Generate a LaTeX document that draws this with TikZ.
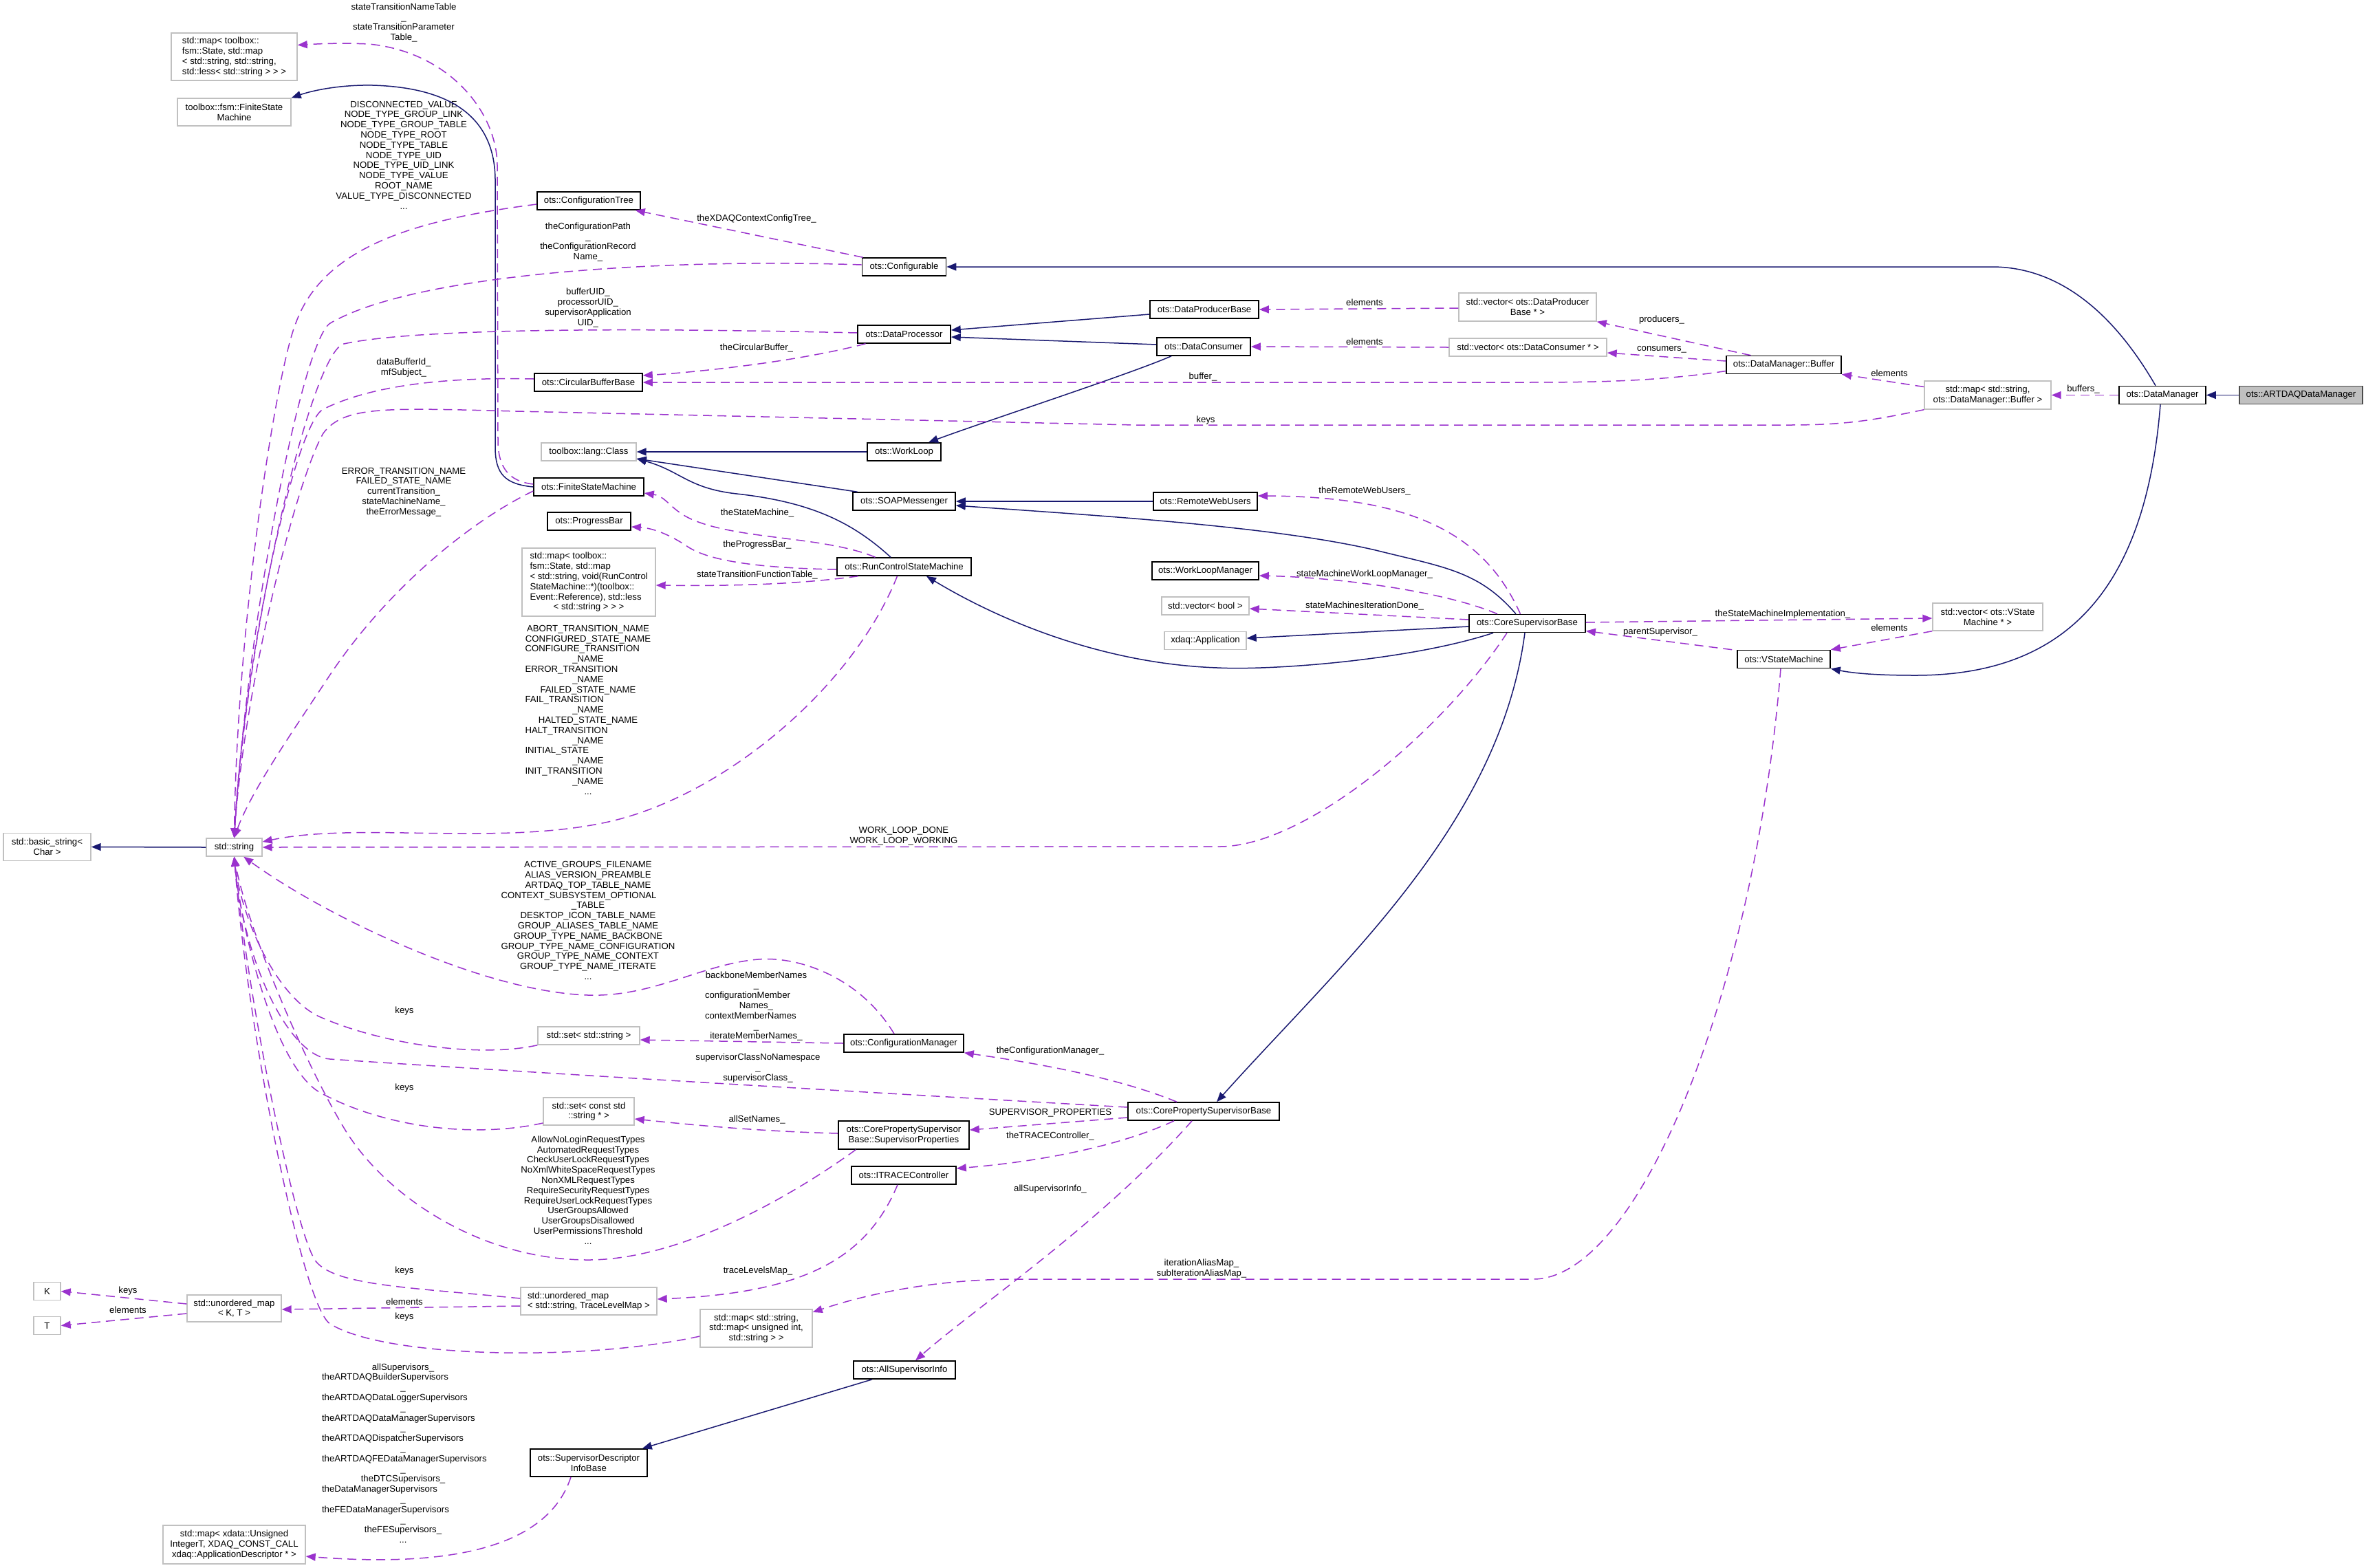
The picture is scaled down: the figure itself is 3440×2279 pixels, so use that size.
\PassOptionsToPackage{x11names, svgnames}{xcolor}
\documentclass[tikz,border=0pt]{standalone}
\usepackage{fontspec}
\setmainfont{Liberation Sans}
\usepackage{tikz}
\usetikzlibrary{arrows.meta}
\newcommand{\lpart}[2]{\makebox[#1][l]{#2}}

\begin{document}
\begin{tikzpicture}[x=1pt, y=-1pt, font=\fontsize{13.2}{14.8}\selectfont,
  cls/.style={draw=black, line width=1.6pt, fill=white, inner sep=0pt, align=center, minimum height=26pt},
  ext/.style={cls, draw=Silver, line width=1.4pt},
  lbl/.style={inner sep=0pt, align=center},
  uses/.style={DarkOrchid3, line width=1.5pt, dash pattern=on 13pt off 8pt, -{Triangle[length=14pt, width=11pt]}},
  isa/.style={MidnightBlue, line width=1.5pt, -{Triangle[length=14pt, width=11pt]}}]
  \useasboundingbox (0,0) rectangle (3440,2279);

  \node[ext, minimum width=183pt, minimum height=69pt, align=left] (mapSTN) at (340.5,82.5) {std::map< toolbox::\\fsm::State, std::map\\< std::string, std::string,\\ std::less< std::string > > >};
  \node[ext, minimum width=165pt, minimum height=40pt] (tbFSM) at (340.5,163) {toolbox::fsm::FiniteState\\Machine};
  \node[cls, minimum width=150pt] (cfgTree) at (856,292) {ots::ConfigurationTree};
  \node[cls, minimum width=122pt] (configurable) at (1314.5,388) {ots::Configurable};
  \node[cls, minimum width=135pt] (dataProc) at (1314.5,486) {ots::DataProcessor};
  \node[cls, minimum width=157pt] (circBuf) at (855.5,556) {ots::CircularBufferBase};
  \node[cls, minimum width=158pt] (prodBase) at (1751,450) {ots::DataProducerBase};
  \node[cls, minimum width=136pt] (consumer) at (1750,504) {ots::DataConsumer};
  \node[ext, minimum width=200pt, minimum height=41pt] (vecProd) at (2221,446.5) {std::vector< ots::DataProducer\\Base * >};
  \node[ext, minimum width=229pt] (vecCons) at (2221.5,505) {std::vector< ots::DataConsumer * >};
  \node[cls, minimum width=167pt] (dmBuffer) at (2593.5,530.5) {ots::DataManager::Buffer};
  \node[ext, minimum width=184pt, minimum height=41pt] (mapBuf) at (2890,574.5) {std::map< std::string,\\ots::DataManager::Buffer >};
  \node[cls, minimum width=126pt] (dataMgr) at (3144,574.5) {ots::DataManager};
  \node[cls, minimum width=179pt, fill=Silver, draw=black!70] (artdaq) at (3345.5,574.5) {ots::ARTDAQDataManager};
  \node[ext, minimum width=127pt, minimum height=40pt] (basicStr) at (68.5,1231.5) {std::basic\_string<\\Char >};
  \node[ext, minimum width=81pt] (stdStr) at (340.5,1232) {std::string};
  \node[ext, minimum width=138pt] (lgClass) at (856,657) {toolbox::lang::Class};
  \node[cls, minimum width=160pt] (otsFSM) at (856,708) {ots::FiniteStateMachine};
  \node[cls, minimum width=121pt] (progBar) at (856.5,758) {ots::ProgressBar};
  \node[ext, minimum width=194pt, minimum height=99pt] (mapRC) at (856,846.5) {\lpart{171pt}{std::map< toolbox::}\\\lpart{171pt}{fsm::State, std::map}\\\lpart{171pt}{< std::string, void(RunControl}\\\lpart{171pt}{StateMachine::*)(toolbox::}\\\lpart{171pt}{Event::Reference), std::less}\\< std::string > > >};
  \node[cls, minimum width=107pt] (workLoop) at (1314.5,657) {ots::WorkLoop};
  \node[cls, minimum width=149pt] (soap) at (1314.5,729) {ots::SOAPMessenger};
  \node[cls, minimum width=195pt] (rcsm) at (1314.5,824) {ots::RunControlStateMachine};
  \node[cls, minimum width=151pt] (remoteWeb) at (1752.5,729) {ots::RemoteWebUsers};
  \node[cls, minimum width=155pt] (wlMgr) at (1752.5,830) {ots::WorkLoopManager};
  \node[ext, minimum width=127pt] (vecBool) at (1752.5,881) {std::vector< bool >};
  \node[ext, minimum width=119pt] (xdaqApp) at (1752.5,931.5) {xdaq::Application};
  \node[cls, minimum width=169pt] (csb) at (2220.5,906.5) {ots::CoreSupervisorBase};
  \node[cls, minimum width=135pt] (vsm) at (2593.5,958.5) {ots::VStateMachine};
  \node[ext, minimum width=160pt, minimum height=40pt] (vecVSM) at (2890,897) {std::vector< ots::VState\\Machine * >};
  \node[ext, minimum width=148pt] (setStr) at (856,1506) {std::set< std::string >};
  \node[ext, minimum width=132pt, minimum height=40pt] (setCStr) at (856,1616) {std::set< const std\\::string * >};
  \node[ext, minimum width=39pt] (K) at (68.5,1877.5) {K};
  \node[ext, minimum width=39pt] (T) at (68.5,1927.5) {T};
  \node[ext, minimum width=137pt, minimum height=39pt] (umapKT) at (340.5,1902.5) {std::unordered\_map\\< K, T >};
  \node[ext, minimum width=198pt, minimum height=40pt, align=left] (umapTL) at (856,1892) {std::unordered\_map\\< std::string, TraceLevelMap >};
  \node[cls, minimum width=174pt] (cfgMgr) at (1314,1517) {ots::ConfigurationManager};
  \node[cls, minimum width=220pt] (cpsb) at (1750,1616) {ots::CorePropertySupervisorBase};
  \node[cls, minimum width=190pt, minimum height=41pt] (supProps) at (1314,1650.5) {ots::CorePropertySupervisor\\Base::SupervisorProperties};
  \node[cls, minimum width=152pt] (itrace) at (1314,1709) {ots::ITRACEController};
  \node[ext, minimum width=163pt, minimum height=55pt] (mapAlias) at (1099.5,1931.5) {std::map< std::string,\\std::map< unsigned int,\\std::string > >};
  \node[cls, minimum width=148pt] (allSupInfo) at (1315,1992) {ots::AllSupervisorInfo};
  \node[cls, minimum width=170pt, minimum height=40pt] (supDesc) at (856,2127) {ots::SupervisorDescriptor\\InfoBase};
  \node[ext, minimum width=207pt, minimum height=56pt] (mapXdaq) at (340.5,2246) {std::map< xdata::Unsigned\\IntegerT, XDAQ\_CONST\_CALL\\xdaq::ApplicationDescriptor * >};

  \node[lbl] (lStn) at (587,33) {stateTransitionNameTable\\\_\\stateTransitionParameter\\Table\_};
  \node[lbl] (lDisc) at (587,225.5) {DISCONNECTED\_VALUE\\NODE\_TYPE\_GROUP\_LINK\\NODE\_TYPE\_GROUP\_TABLE\\NODE\_TYPE\_ROOT\\NODE\_TYPE\_TABLE\\NODE\_TYPE\_UID\\NODE\_TYPE\_UID\_LINK\\NODE\_TYPE\_VALUE\\ROOT\_NAME\\VALUE\_TYPE\_DISCONNECTED\\...};
  \node[lbl] (lCfgPath) at (855,352) {theConfigurationPath\\\_\\theConfigurationRecord\\Name\_};
  \node[lbl] (lXdaq) at (1100,318) {theXDAQContextConfigTree\_};
  \node[lbl] (lUid) at (855,447.5) {bufferUID\_\\processorUID\_\\supervisorApplication\\UID\_};
  \node[lbl] (lCirc) at (1100,506) {theCircularBuffer\_};
  \node[lbl] (lBufId) at (587,534.5) {dataBufferId\_\\mfSubject\_};
  \node[lbl] (lBuffer) at (1749,548) {buffer\_};
  \node[lbl] (lKeysBuf) at (1753,611) {keys};
  \node[lbl] (lElProd) at (1984,440) {elements};
  \node[lbl] (lElCons) at (1984,497) {elements};
  \node[lbl] (lProd) at (2416,465) {producers\_};
  \node[lbl] (lCons) at (2416,508) {consumers\_};
  \node[lbl] (lElBuf) at (2747,543) {elements};
  \node[lbl] (lBuffers) at (3029,566) {buffers\_};
  \node[lbl] (lErr) at (587,715.5) {ERROR\_TRANSITION\_NAME\\FAILED\_STATE\_NAME\\currentTransition\_\\stateMachineName\_\\theErrorMessage\_};
  \node[lbl] (lSm) at (1101,746) {theStateMachine\_};
  \node[lbl] (lProgBar) at (1101,792) {theProgressBar\_};
  \node[lbl] (lFunc) at (1101,836) {stateTransitionFunctionTable\_};
  \node[lbl] (lAbort) at (855,1032) {ABORT\_TRANSITION\_NAME\\CONFIGURED\_STATE\_NAME\\\lpart{183pt}{CONFIGURE\_TRANSITION}\\\_NAME\\\lpart{183pt}{ERROR\_TRANSITION}\\\_NAME\\FAILED\_STATE\_NAME\\\lpart{183pt}{FAIL\_TRANSITION}\\\_NAME\\HALTED\_STATE\_NAME\\\lpart{183pt}{HALT\_TRANSITION}\\\_NAME\\\lpart{183pt}{INITIAL\_STATE}\\\_NAME\\\lpart{183pt}{INIT\_TRANSITION}\\\_NAME\\...};
  \node[lbl] (lWork) at (1314,1215.5) {WORK\_LOOP\_DONE\\WORK\_LOOP\_WORKING};
  \node[lbl] (lRwu) at (1984,714) {theRemoteWebUsers\_};
  \node[lbl] (lWlm) at (1984,835) {stateMachineWorkLoopManager\_};
  \node[lbl] (lIter) at (1984,881) {stateMachinesIterationDone\_};
  \node[lbl] (lImpl) at (2592,893) {theStateMachineImplementation\_};
  \node[lbl] (lElVsm) at (2747,913) {elements};
  \node[lbl] (lParent) at (2414,919) {parentSupervisor\_};
  \node[lbl] (lActive) at (855,1338.5) {ACTIVE\_GROUPS\_FILENAME\\ALIAS\_VERSION\_PREAMBLE\\ARTDAQ\_TOP\_TABLE\_NAME\\\lpart{253pt}{CONTEXT\_SUBSYSTEM\_OPTIONAL}\\\_TABLE\\DESKTOP\_ICON\_TABLE\_NAME\\GROUP\_ALIASES\_TABLE\_NAME\\GROUP\_TYPE\_NAME\_BACKBONE\\GROUP\_TYPE\_NAME\_CONFIGURATION\\GROUP\_TYPE\_NAME\_CONTEXT\\GROUP\_TYPE\_NAME\_ITERATE\\...};
  \node[lbl] (lKeysSet) at (588,1470) {keys};
  \node[lbl] (lKeysCSet) at (588,1582) {keys};
  \node[lbl] (lKeysTL) at (588,1848) {keys};
  \node[lbl] (lKeysK) at (186,1877) {keys};
  \node[lbl] (lElT) at (186,1905) {elements};
  \node[lbl] (lElTL) at (588,1893) {elements};
  \node[lbl] (lKeysAlias) at (588,1915) {keys};
  \node[lbl] (lMembers) at (1099.5,1463) {backboneMemberNames\\\_\\\lpart{149pt}{configurationMember}\\Names\_\\\lpart{149pt}{contextMemberNames}\\\_\\iterateMemberNames\_};
  \node[lbl] (lSupClass) at (1102,1553) {supervisorClassNoNamespace\\\_\\supervisorClass\_};
  \node[lbl] (lAllow) at (855,1730.5) {AllowNoLoginRequestTypes\\AutomatedRequestTypes\\CheckUserLockRequestTypes\\NoXmlWhiteSpaceRequestTypes\\NonXMLRequestTypes\\RequireSecurityRequestTypes\\RequireUserLockRequestTypes\\UserGroupsAllowed\\UserGroupsDisallowed\\UserPermissionsThreshold\\...};
  \node[lbl] (lCfgMgr) at (1527,1528) {theConfigurationManager\_};
  \node[lbl] (lProps) at (1527,1618) {SUPERVISOR\_PROPERTIES};
  \node[lbl] (lTrace) at (1527,1652) {theTRACEController\_};
  \node[lbl] (lAllInfo) at (1527,1729) {allSupervisorInfo\_};
  \node[lbl] (lSetNames) at (1100.6,1628) {allSetNames\_};
  \node[lbl] (lLevels) at (1102,1848) {traceLevelsMap\_};
  \node[lbl] (lAlias) at (1747,1844.5) {iterationAliasMap\_\\subIterationAliasMap\_};
  \node[lbl] (lAllSup) at (586,2113) {allSupervisors\_\\\lpart{236pt}{theARTDAQBuilderSupervisors}\\\_\\\lpart{236pt}{theARTDAQDataLoggerSupervisors}\\\_\\\lpart{236pt}{theARTDAQDataManagerSupervisors}\\\_\\\lpart{236pt}{theARTDAQDispatcherSupervisors}\\\_\\\lpart{236pt}{theARTDAQFEDataManagerSupervisors}\\\_\\theDTCSupervisors\_\\\lpart{236pt}{theDataManagerSupervisors}\\\_\\\lpart{236pt}{theFEDataManagerSupervisors}\\\_\\theFESupervisors\_\\...};

  \draw[isa] (artdaq.west) -- (dataMgr.east);
  \draw[isa] ([xshift=-10pt]dataMgr.north) .. controls (3070,450) and (2990,388) .. (2896,388) -- (configurable.east);
  \draw[isa] ([xshift=-3pt]dataMgr.south) .. controls (3120,850) and (3010,982) .. (2785,982) .. controls (2720,982) and (2690,978) .. (vsm.south east);
  \draw[isa] ([yshift=-7pt]prodBase.west) -- ([yshift=6pt]dataProc.east);
  \draw[isa] ([yshift=3pt]consumer.west) -- ([yshift=-4pt]dataProc.east);
  \draw[isa] ([xshift=-47pt]consumer.south) .. controls (1640,545) and (1440,610) .. ([xshift=35.5pt]workLoop.north);
  \draw[isa] (workLoop.west) -- (lgClass.east);
  \draw[isa] ([xshift=-68pt]soap.north) -- ([yshift=-10pt]lgClass.east);
  \draw[isa] ([xshift=-19.5pt]rcsm.north) .. controls (1240,760) and (1180,730) .. (1071,718) .. controls (1000,710) and (990,685) .. ([yshift=-10pt]lgClass.east);
  \draw[isa] (otsFSM.west) .. controls (735,704) and (720,690) .. (720,650) -- (720,260) .. controls (719,190) and (680,128) .. (542,124) .. controls (490,123) and (450,133) .. (tbFSM.north east);
  \draw[isa] (remoteWeb.west) -- (soap.east);
  \draw[isa] ([xshift=-16.5pt]csb.north) .. controls (2150,830) and (2100,825) .. (2000,800) .. controls (1850,765) and (1600,750) .. ([yshift=-6pt]soap.east);
  \draw[isa] ([yshift=-4.5pt]csb.west) -- ([yshift=3.5pt]xdaqApp.east);
  \draw[isa] ([xshift=-49.5pt]csb.south) .. controls (2050,960) and (1850,975) .. (1770,971) .. controls (1600,965) and (1450,900) .. ([xshift=32.5pt]rcsm.south);
  \draw[isa] ([xshift=-3.5pt]csb.south) .. controls (2180,1200) and (1950,1400) .. ([xshift=19pt]cpsb.north);
  \draw[isa] ([xshift=-47pt]allSupInfo.south) -- ([xshift=-8pt]supDesc.north east);
  \draw[isa] (stdStr.west) -- (basicStr.east);

  \draw[uses] ([yshift=-5pt]cfgTree.west) .. controls (600,320) and (470,360) .. (430,470) .. controls (402,540) and (345,900) .. (stdStr.north);
  \draw[uses] ([yshift=3pt]configurable.west) .. controls (950,375) and (600,400) .. (480,470) .. controls (440,495) and (360,900) .. (stdStr.north);
  \draw[uses] ([yshift=2pt]dataProc.west) .. controls (900,476) and (600,478) .. (500,500) .. controls (455,510) and (360,900) .. (stdStr.north);
  \draw[uses] ([yshift=5pt]circBuf.west) .. controls (650,548) and (540,560) .. (470,595) .. controls (430,615) and (355,950) .. (stdStr.north);
  \draw[uses] (mapBuf.south west) .. controls (2720,612) and (2680,618) .. (2600,618) -- (1650,618) -- (750,598) .. controls (560,593) and (500,590) .. (470,630) .. controls (430,700) and (355,1000) .. (stdStr.north);
  \draw[uses] ([yshift=-6pt]otsFSM.west) .. controls (680,760) and (560,860) .. (478,984) .. controls (430,1057) and (365,1150) .. (stdStr.north);
  \draw[uses] ([xshift=-10pt]rcsm.south) .. controls (1240,1000) and (1050,1160) .. (880,1196) .. controls (720,1230) and (520,1195) .. ([yshift=8pt]stdStr.east);
  \draw[uses] ([xshift=-29.5pt]csb.south) .. controls (2100,1060) and (1900,1231) .. (1773,1231) -- (stdStr.east);
  \draw[uses] ([xshift=-14pt]cfgMgr.north) .. controls (1250,1420) and (1160,1390) .. (1102,1395) .. controls (1020,1402) and (950,1450) .. (855,1447) .. controls (700,1442) and (470,1330) .. (stdStr.-45);
  \draw[uses] (setStr.south west) .. controls (700,1538) and (560,1520) .. (466,1479) .. controls (400,1450) and (350,1330) .. (stdStr.south);
  \draw[uses] ([yshift=6pt]cpsb.west) .. controls (1200,1585) and (700,1555) .. (480,1540) .. controls (420,1536) and (355,1400) .. (stdStr.south);
  \draw[uses] ([yshift=-17pt]setCStr.west) .. controls (690,1655) and (560,1640) .. (466,1589) .. controls (400,1553) and (350,1350) .. (stdStr.south);
  \draw[uses] ([xshift=26pt]supProps.south west) .. controls (1150,1740) and (990,1832) .. (855,1832) .. controls (700,1832) and (560,1740) .. (500,1640) .. controls (440,1540) and (360,1350) .. (stdStr.south);
  \draw[uses] ([yshift=4pt]umapTL.west) .. controls (600,1872) and (490,1870) .. (460,1835) .. controls (430,1800) and (360,1450) .. (stdStr.south);
  \draw[uses] ([yshift=-11.5pt]mapAlias.west) .. controls (850,1980) and (560,1975) .. (480,1925) .. controls (440,1900) and (360,1500) .. (stdStr.south);
  \draw[uses] ([yshift=4pt]otsFSM.west) .. controls (740,700) and (724,680) .. (724,640) -- (723,240) .. controls (722,160) and (650,75) .. (536,64) .. controls (490,62) and (460,64) .. ([yshift=17pt]mapSTN.east);
  \draw[uses] ([xshift=-60pt]configurable.north) -- ([xshift=-8pt]cfgTree.south east);
  \draw[uses] ([xshift=-56pt]dataProc.south) .. controls (1150,528) and (1000,542) .. ([yshift=10pt]circBuf.east);
  \draw[uses] ([yshift=-9pt]dmBuffer.west) .. controls (2400,556) and (2300,556) .. (2200,556) -- (circBuf.east);
  \draw[uses] ([xshift=-42pt]rcsm.north) .. controls (1200,780) and (1080,785) .. (1010,757) .. controls (975,743) and (970,722) .. ([yshift=-9pt]otsFSM.east);
  \draw[uses] ([yshift=-4pt]rcsm.west) .. controls (1100,826) and (1030,815) .. (1000,795) .. controls (975,778) and (950,768) .. ([yshift=-8pt]progBar.east);
  \draw[uses] ([xshift=-67pt]rcsm.south) .. controls (1150,851) and (1050,852) .. ([yshift=-4.5pt]mapRC.east);
  \draw[uses] (cfgMgr.west) -- ([yshift=-6pt]setStr.east);
  \draw[uses] ([yshift=2.5pt]supProps.west) .. controls (1100,1645) and (1000,1635) .. ([yshift=-11pt]setCStr.east);
  \draw[uses] ([xshift=-9pt]itrace.south) .. controls (1260,1830) and (1170,1880) .. ([yshift=3pt]umapTL.east);
  \draw[uses] ([yshift=-7pt]umapTL.west) -- ([yshift=-1.5pt]umapKT.east);
  \draw[uses] ([yshift=6.5pt]umapKT.west) -- (K.east);
  \draw[uses] ([yshift=-7.5pt]umapKT.west) -- (T.east);
  \draw[uses] ([xshift=-26pt]supDesc.south) .. controls (790,2270) and (600,2275) .. ([yshift=-17pt]mapXdaq.east);
  \draw[uses] ([xshift=-17pt]cpsb.south) .. controls (1600,1780) and (1420,1900) .. ([xshift=16pt]allSupInfo.north);
  \draw[uses] ([xshift=-4.5pt]vsm.south) .. controls (2550,1450) and (2380,1860) .. (2229,1860) -- (1479,1860) .. controls (1350,1860) and (1250,1885) .. ([yshift=23.5pt]mapAlias.east);
  \draw[uses] ([xshift=-39pt]cpsb.north) .. controls (1620,1565) and (1500,1545) .. (cfgMgr.south east);
  \draw[uses] ([yshift=-9pt]cpsb.west) -- ([yshift=7.5pt]supProps.east);
  \draw[uses] ([xshift=-43pt]cpsb.south) .. controls (1620,1670) and (1500,1690) .. ([yshift=10pt]itrace.east);
  \draw[uses] ([yshift=1.5pt]csb.east) -- ([yshift=-2pt]vecVSM.west);
  \draw[uses] ([xshift=-7pt]vsm.north west) -- ([yshift=-11pt]csb.east);
  \draw[uses] (vecVSM.south west) -- (vsm.north east);
  \draw[uses] ([yshift=5.5pt]csb.west) -- ([yshift=-4pt]vecBool.east);
  \draw[uses] ([xshift=-43.5pt]csb.north) .. controls (2100,860) and (1950,840) .. ([yshift=-7pt]wlMgr.east);
  \draw[uses] ([xshift=-10pt]csb.north) .. controls (2160,780) and (2060,722) .. ([yshift=8pt]remoteWeb.east);
  \draw[uses] ([xshift=-48pt]dmBuffer.north) -- (vecProd.south east);
  \draw[uses] ([yshift=5.5pt]dmBuffer.west) -- ([yshift=-8pt]vecCons.east);
  \draw[uses] ([yshift=-1.5pt]vecProd.west) -- (prodBase.east);
  \draw[uses] (vecCons.west) -- (consumer.east);
  \draw[uses] ([yshift=12pt]mapBuf.west) -- (dmBuffer.south east);
  \draw[uses] (dataMgr.west) -- (mapBuf.east);
\end{tikzpicture}
\end{document}
